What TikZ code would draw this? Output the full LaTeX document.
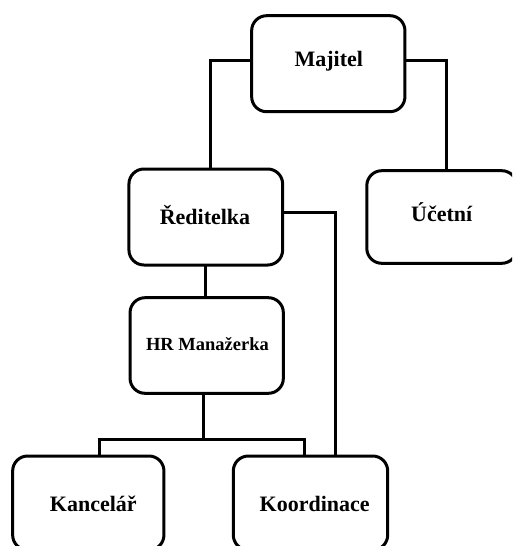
\documentclass[tikz,border=0pt]{standalone}
\usepackage{fontspec}
\setmainfont{Liberation Serif}
\tikzset{
  box/.style={draw=black, line width=3pt, rounded corners=15pt, inner sep=0pt, outer sep=0pt, fill=white},
  lbl/.style={anchor=base, inner sep=0pt, font=\fontsize{22}{26}\selectfont\bfseries},
  lblsmall/.style={anchor=base, inner sep=0pt, font=\fontsize{18.5}{22}\selectfont\bfseries},
  conn/.style={draw=black, line width=3pt}
}
\begin{document}
\begin{tikzpicture}[x=1pt,y=-1pt]
\useasboundingbox (0,0) rectangle (512,546);
\fill[white] (0,0) rectangle (512,546);
\clip (0,0) rectangle (512,546);
% boxes
\node[box, minimum width=153.3pt, minimum height=96pt] (maj) at (328.3,63.7) {};
\node[box, minimum width=150pt, minimum height=92.6pt] (uce) at (441.8,217) {};
\node[box, minimum width=153.7pt, minimum height=96pt] (red) at (205.8,217) {};
\node[box, minimum width=153.3pt, minimum height=95.6pt] (hr) at (206.7,345.5) {};
\node[box, minimum width=151.3pt, minimum height=94pt] (kan) at (88.3,503) {};
\node[box, minimum width=154.4pt, minimum height=94pt] (koo) at (310.5,503) {};
% labels
\node[lbl] (tmaj) at (328.8,66.7) {Majitel};
\node[lbl] (tuce) at (441.7,221.7) {Účetní};
\node[lbl] (tred) at (205,224) {Ředitelka};
\node[lblsmall] (thr) at (207.5,350.7) {HR Manažerka};
\node[lbl] (tkan) at (93.3,511.7) {Kancelář};
\node[lbl] (tkoo) at (314.7,511.7) {Koordinace};
% connectors
\coordinate (j) at (203.3,439);
\draw[conn] ([yshift=3pt]maj.west) -| ([xshift=5pt]red.north);
\draw[conn] ([yshift=3.7pt]maj.east) -| ([xshift=5pt]uce.north);
\draw[conn] ([yshift=4.7pt]red.east) -| ([xshift=24.5pt]koo.north);
\draw[conn] (red.south) -- (red.south |- hr.north);
\draw[conn] ([xshift=-3.4pt]hr.south) -- (j);
\draw[conn] ([xshift=11.6pt]kan.north) |- (j) -| ([xshift=-6.2pt]koo.north);
\end{tikzpicture}
\end{document}
